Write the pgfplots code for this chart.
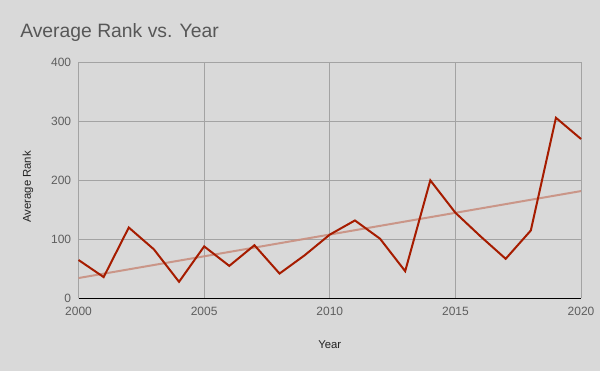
\documentclass[border=0pt]{standalone}
\usepackage{fontspec}
\setmainfont{Liberation Sans}
\usepackage{pgfplots}
\pgfplotsset{compat=1.18}
\definecolor{bg}{HTML}{D9D9D9}
\definecolor{grd}{HTML}{A3A3A3}
\definecolor{ser}{HTML}{A61C00}
\definecolor{trd}{HTML}{C98F80}
\definecolor{ttl}{HTML}{575757}
\definecolor{tck}{HTML}{5E5E5E}
\definecolor{lab}{HTML}{222222}
\begin{document}
\begin{tikzpicture}[x=1pt,y=1pt]
\fill[bg] (0,0) rectangle (450,278.25);
\begin{axis}[
  at={(58.9pt,54.5pt)}, anchor=south west,
  scale only axis, width=376.9pt, height=177pt,
  xmin=2000, xmax=2020, ymin=0, ymax=400,
  xtick={2000,2005,...,2020}, ytick={0,100,...,400},
  /pgf/number format/.cd, set thousands separator={}, assume math mode=true,
  /pgfplots/.cd,
  grid=major, major grid style={grd, line width=0.75pt},
  major tick length=0pt,
  axis x line*=bottom, axis y line*=left,
  x axis line style={black, line width=1pt, -},
  y axis line style={draw=none},
  tick label style={font=\fontsize{9}{10}\selectfont, text=tck},
  xticklabel style={yshift=-3pt},
  yticklabel style={xshift=-2pt},
  xlabel={Year}, ylabel={Average Rank},
  label style={font=\fontsize{8.5}{10}\selectfont, text=lab},
  xlabel style={at={(axis description cs:0.5,-0.1977)}, anchor=center},
  ylabel style={at={(axis description cs:-0.1006,0.4725)}, anchor=center},
  clip=false,
]
\addplot[trd, line width=1.5pt, opacity=0.9] coordinates {(2000,34.4) (2020,181.8)};
\addplot[ser, line width=1.5pt, line join=miter] coordinates {
(2000,65) (2001,36) (2002,120) (2003,83) (2004,28) (2005,88) (2006,55)
(2007,90) (2008,42) (2009,73) (2010,108) (2011,132) (2012,101) (2013,46)
(2014,200) (2015,145) (2016,105) (2017,67) (2018,115) (2019,306) (2020,270)};
\end{axis}
\node[anchor=base west, inner sep=0pt, font=\fontsize{14.5}{16}\selectfont, text=ttl] at (15,250) {Average Rank vs. Year};
\pgfresetboundingbox
\path[use as bounding box] (0,0) rectangle (450,278.25);
\end{tikzpicture}
\end{document}
